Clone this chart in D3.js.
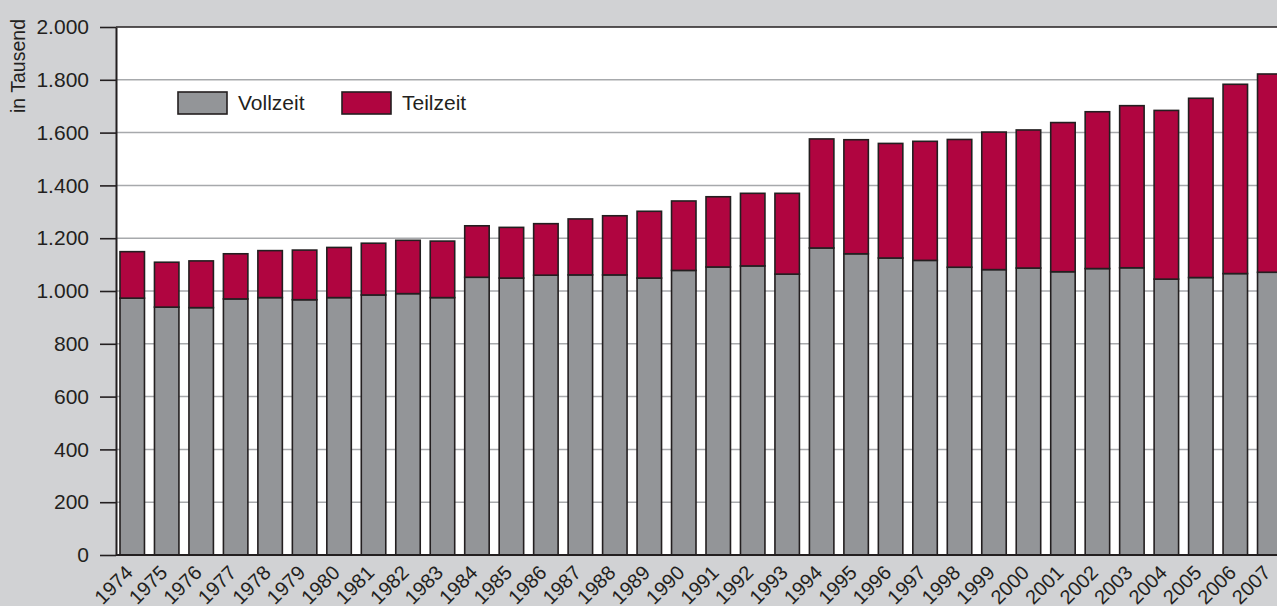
<!DOCTYPE html>
<html lang="de">
<head>
<meta charset="utf-8">
<script src="https://cdn.jsdelivr.net/npm/d3@7"></script>
<style>
  html, body { margin: 0; padding: 0; background: #d1d2d4; }
  svg { display: block; }
  text { font-family: "Liberation Sans", Arial, sans-serif; fill: #231f20; }
</style>
</head>
<body>
<svg id="chart" width="1277" height="606"></svg>
<script>
// Erwerbstätige nach Arbeitszeit, in Tausend
const years = [
  "1974","1975","1976","1977","1978","1979","1980","1981","1982","1983",
  "1984","1985","1986","1987","1988","1989","1990","1991","1992","1993",
  "1994","1995","1996","1997","1998","1999","2000","2001","2002","2003",
  "2004","2005","2006","2007"
];
const vollzeit = [
  973, 939, 937, 970, 975, 967, 975, 985, 990, 975,
  1052, 1049, 1060, 1061, 1061, 1049, 1078, 1091, 1095, 1064,
  1163, 1141, 1125, 1116, 1090, 1081, 1087, 1073, 1085, 1088,
  1045, 1051, 1066, 1071
];
const teilzeit = [
  176, 170, 177, 171, 178, 188, 190, 196, 202, 214,
  195, 192, 195, 212, 224, 253, 263, 266, 275, 306,
  413, 432, 434, 451, 484, 521, 523, 565, 594, 614,
  639, 679, 717, 751
];
const seriesNames = ["Vollzeit", "Teilzeit"];
const seriesColors = ["#939598", "#b00540"];
const yTickValues = [0, 200, 400, 600, 800, 1000, 1200, 1400, 1600, 1800, 2000];
const yTickLabels = ["0", "200", "400", "600", "800", "1.000", "1.200", "1.400", "1.600", "1.800", "2.000"];
const yTitle = "in Tausend";

const svg = d3.select("#chart");
const plotLeft = 116, plotTop = 27, plotBottom = 555, plotRight = 1286, viewRight = 1277;
const ink = "#231f20";

const x = d3.scaleBand()
  .domain(years)
  .range([plotLeft, plotRight])
  .paddingInner(0.29)
  .paddingOuter(0.116);

const y = d3.scaleLinear().domain([0, 2000]).range([plotBottom, plotTop]);

// Plot area
svg.append("rect")
  .attr("x", plotLeft).attr("y", plotTop)
  .attr("width", viewRight - plotLeft).attr("height", plotBottom - plotTop)
  .attr("fill", "#ffffff");

// Horizontal grid
svg.append("g")
  .selectAll("line")
  .data(yTickValues.filter(v => v > 0 && v < 2000))
  .join("line")
  .attr("x1", plotLeft).attr("x2", viewRight)
  .attr("y1", d => y(d)).attr("y2", d => y(d))
  .attr("stroke", "#a7a9ac").attr("stroke-width", 1.5);

// Stacked bars
const rows = years.map((yr, i) => ({ year: yr, Vollzeit: vollzeit[i], Teilzeit: teilzeit[i] }));
const stacked = d3.stack().keys(seriesNames)(rows);

svg.append("g")
  .selectAll("g")
  .data(stacked)
  .join("g")
  .attr("fill", (d, i) => seriesColors[i])
  .selectAll("rect")
  .data(d => d)
  .join("rect")
  .attr("x", d => x(d.data.year))
  .attr("width", x.bandwidth())
  .attr("y", d => y(d[1]))
  .attr("height", d => y(d[0]) - y(d[1]))
  .attr("stroke", ink)
  .attr("stroke-width", 1.6);

// Y axis
const yAxis = d3.axisLeft(y)
  .tickValues(yTickValues)
  .tickFormat((d, i) => yTickLabels[i])
  .tickSizeInner(16)
  .tickSizeOuter(0)
  .tickPadding(11);

const gy = svg.append("g")
  .attr("transform", `translate(${plotLeft},0)`)
  .call(yAxis);
gy.select(".domain").attr("stroke", ink).attr("stroke-width", 2);
gy.selectAll(".tick line").attr("stroke", ink).attr("stroke-width", 1.6);
gy.selectAll(".tick text")
  .attr("font-size", 21)
  .attr("font-family", "'Liberation Sans', Arial, sans-serif")
  .attr("fill", ink);

// Top and bottom frame lines
svg.append("line")
  .attr("x1", plotLeft).attr("x2", viewRight)
  .attr("y1", y(2000)).attr("y2", y(2000))
  .attr("stroke", ink).attr("stroke-width", 1.6);
svg.append("line")
  .attr("x1", plotLeft).attr("x2", viewRight)
  .attr("y1", y(0)).attr("y2", y(0))
  .attr("stroke", ink).attr("stroke-width", 2);

// Year labels, rotated
svg.append("g")
  .selectAll("text")
  .data(years)
  .join("text")
  .attr("transform", d => `translate(${x(d) + x.bandwidth() / 2 + 2},${plotBottom + 19}) rotate(-45)`)
  .attr("text-anchor", "end")
  .attr("font-size", 20)
  .text(d => d);

// Y axis title
svg.append("text")
  .attr("transform", `translate(25,66) rotate(-90)`)
  .attr("text-anchor", "middle")
  .attr("font-size", 19.5)
  .text(yTitle);

// Legend
const legendX = [178, 342];
const legend = svg.append("g");
seriesNames.forEach((name, i) => {
  legend.append("rect")
    .attr("x", legendX[i]).attr("y", 92)
    .attr("width", 49).attr("height", 22)
    .attr("fill", seriesColors[i])
    .attr("stroke", ink).attr("stroke-width", 1.6);
  legend.append("text")
    .attr("x", legendX[i] + 60).attr("y", 110)
    .attr("font-size", 21)
    .text(name);
});
</script>
</body>
</html>
